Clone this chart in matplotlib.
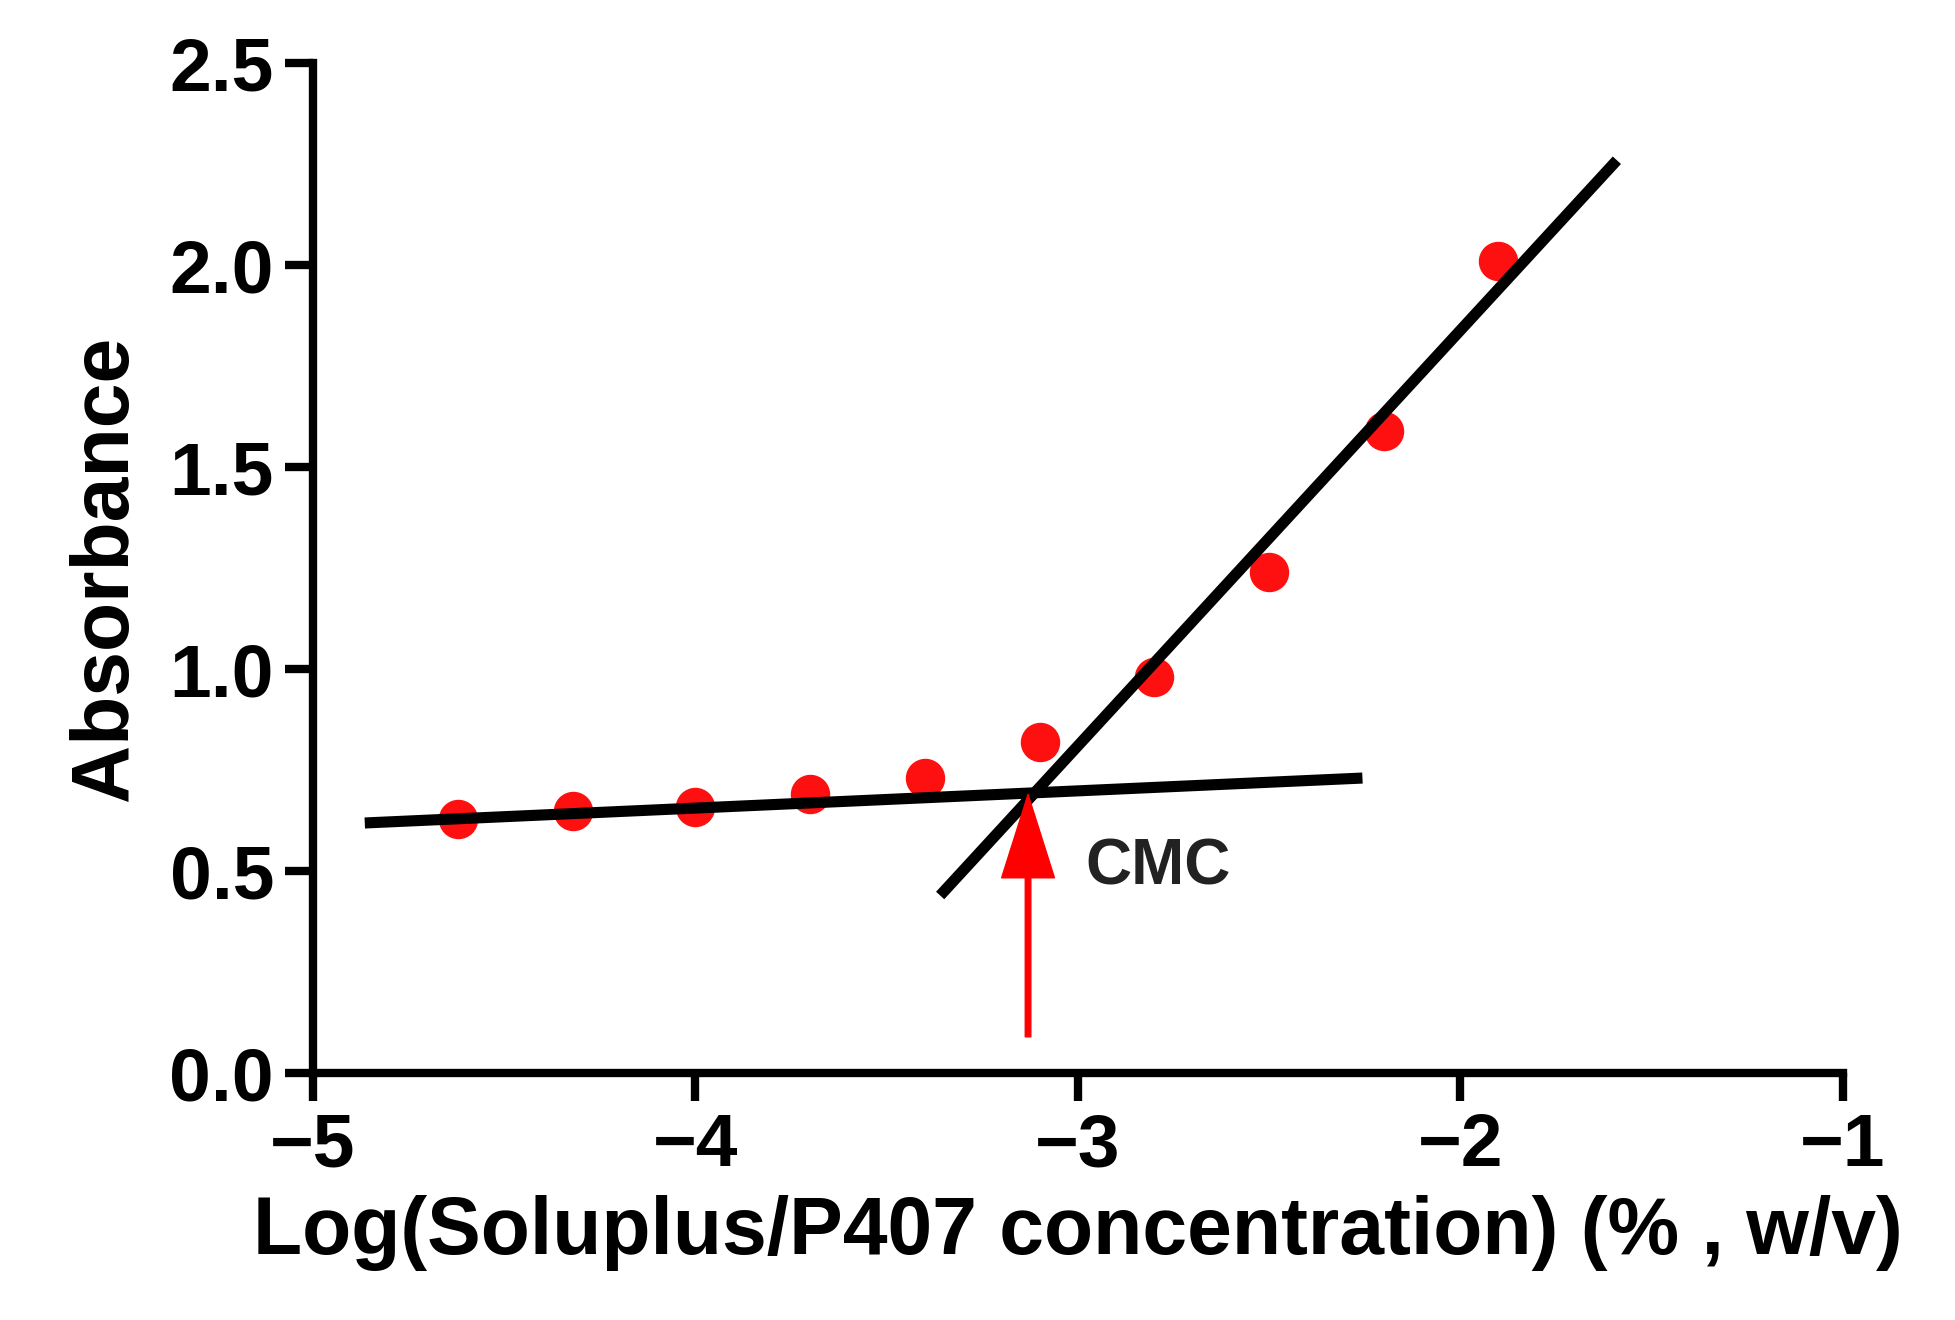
import matplotlib.pyplot as plt

plt.rcParams['font.family'] = ['Liberation Sans', 'DejaVu Sans']
plt.rcParams['font.weight'] = 'bold'

log_conc = [-4.62, -4.32, -4.0, -3.7, -3.4, -3.1, -2.8, -2.5, -2.2, -1.9]
absorb = [0.63, 0.65, 0.66, 0.69, 0.73, 0.82, 0.98, 1.24, 1.59, 2.01]

flat_x = [-4.85, -2.27]
flat_y = [0.62, 0.73]
steep_x = [-3.35, -1.6]
steep_y = [0.45, 2.25]

fig = plt.figure(figsize=(19.56, 13.2), dpi=100)
ax = fig.add_axes([0.16, 0.187, 0.782, 0.765])

ax.plot(flat_x, flat_y, color='black', lw=8, zorder=3)
ax.plot(steep_x, steep_y, color='black', lw=8, zorder=3)
ax.scatter(log_conc, absorb, s=750, color='#ff1010', zorder=2)

ax.annotate('', xy=(-3.13, 0.69), xytext=(-3.13, 0.09),
            arrowprops=dict(facecolor='red', edgecolor='red', width=4, headwidth=38, headlength=60))
ax.text(-2.98, 0.51, 'CMC', fontsize=46, fontweight='bold', color='#222222', va='center')

ax.set_xlim(-5, -1)
ax.set_ylim(0, 2.5)
ax.set_xticks([-5, -4, -3, -2, -1])
ax.set_xticklabels(['\u22125', '\u22124', '\u22123', '\u22122', '\u22121'])
ax.set_yticks([0, 0.5, 1.0, 1.5, 2.0, 2.5])
ax.set_yticklabels(['0.0', '0.5', '1.0', '1.5', '2.0', '2.5'])
for s in ['top', 'right']:
    ax.spines[s].set_visible(False)
for s in ['left', 'bottom']:
    ax.spines[s].set_linewidth(6)
ax.tick_params(width=6, length=20, labelsize=54, pad=8)
for lab in ax.get_xticklabels() + ax.get_yticklabels():
    lab.set_fontweight('bold')

ax.set_xlabel('Log(Soluplus/P407 concentration) (% , w/v)', fontsize=58, fontweight='bold', labelpad=10)
ax.set_ylabel('Absorbance', fontsize=58, fontweight='bold', labelpad=18)

fig.savefig('out.png', dpi=100)
